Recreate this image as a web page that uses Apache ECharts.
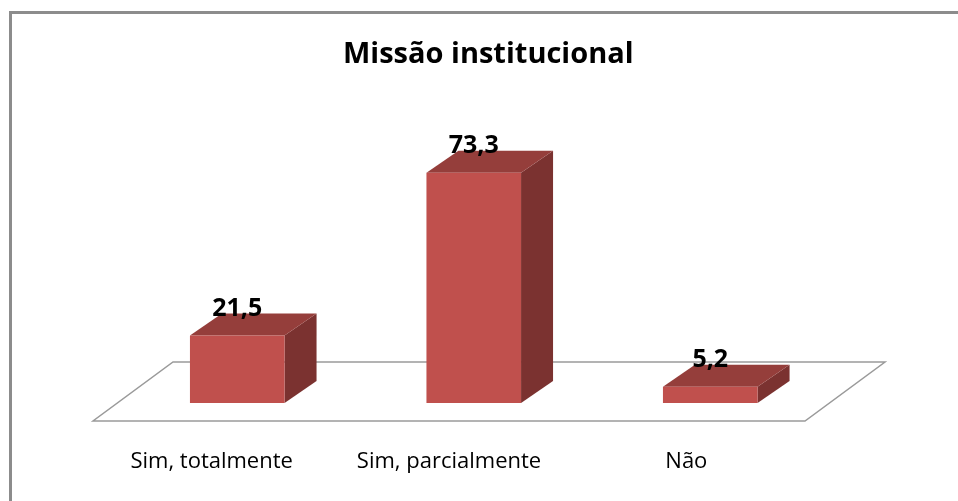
<!DOCTYPE html>
<html>
<head>
<meta charset="utf-8">
<script src="https://cdn.jsdelivr.net/npm/echarts@6/dist/echarts.min.js"></script>
<style>
  html, body { margin: 0; padding: 0; background: #fff; }
  #chart { width: 958px; height: 501px; }
</style>
</head>
<body>
<div id="chart"></div>
<script>
const categories = ['Sim, totalmente', 'Sim, parcialmente', 'Não'];
const values = [21.5, 73.3, 5.2];

// 3d look
const depthX = 32, depthY = -22;
const floorX = 80, floorY = -59;

const chart = echarts.init(document.getElementById('chart'));

function renderBar(params, api) {
  const idx = api.value(0);
  const val = api.value(1);
  const top = api.coord([idx, val]);
  const base = api.coord([idx, 0]);
  const w = api.size([1, 0])[0] * 0.4;
  const x0 = top[0] - w / 2, x1 = top[0] + w / 2;
  const yt = top[1], yb = base[1];
  return {
    type: 'group',
    children: [
      {
        type: 'polygon',
        shape: { points: [[x1, yt], [x1 + depthX, yt + depthY], [x1 + depthX, yb + depthY], [x1, yb]] },
        style: { fill: '#7b3230' }
      },
      {
        type: 'polygon',
        shape: { points: [[x0, yt], [x1, yt], [x1 + depthX, yt + depthY], [x0 + depthX, yt + depthY]] },
        style: { fill: '#953e3b' }
      },
      {
        type: 'rect',
        shape: { x: x0, y: yt, width: w, height: yb - yt },
        style: { fill: '#c0504d' }
      },
      {
        type: 'text',
        style: {
          x: top[0], y: yt + depthY - 5,
          text: String(val).replace('.', ','),
          fill: '#000',
          font: 'bold 25px "Open Sans"',
          align: 'center', verticalAlign: 'middle'
        }
      }
    ]
  };
}

function renderFloor(params, api) {
  const cs = params.coordSys;
  const yb = cs.y + cs.height;
  return {
    type: 'polygon',
    shape: { points: [[cs.x, yb], [cs.x + cs.width, yb], [cs.x + cs.width + floorX, yb + floorY], [cs.x + floorX, yb + floorY]] },
    style: { fill: '#fff', stroke: '#9a9a9a', lineWidth: 1.5 }
  };
}

const option = {
  animation: false,
  title: {
    text: 'Missão institucional',
    left: 338,
    top: 35,
    textStyle: { fontFamily: 'Open Sans', fontWeight: 'bold', fontSize: 29, color: '#000' }
  },
  graphic: [
    {
      type: 'polyline',
      shape: { points: [[10.5, 501], [10.5, 12.5], [958, 12.5]] },
      style: { stroke: '#8c8c8c', lineWidth: 3, fill: null }
    }
  ],
  grid: [
    { left: 119, right: 129.5, top: 89, bottom: 98 },
    { left: 93, right: 153, top: 89, bottom: 80 }
  ],
  xAxis: [
    { type: 'category', gridIndex: 0, data: categories, show: false },
    {
      type: 'category', gridIndex: 1, data: categories,
      axisLine: { show: false }, axisTick: { show: false },
      axisLabel: { interval: 0, hideOverlap: false, margin: 30, fontFamily: 'Open Sans', fontSize: 22, color: '#000' }
    }
  ],
  yAxis: [
    { type: 'value', gridIndex: 0, min: 0, max: 100, show: false },
    { type: 'value', gridIndex: 1, min: 0, max: 100, show: false }
  ],
  series: [
    {
      type: 'custom', xAxisIndex: 1, yAxisIndex: 1, z: 1,
      renderItem: renderFloor,
      data: [[0, 0]]
    },
    {
      type: 'custom', xAxisIndex: 0, yAxisIndex: 0, z: 2,
      renderItem: renderBar,
      encode: { x: 0, y: 1 },
      data: values.map((v, i) => [i, v])
    }
  ]
};

chart.setOption(option);
</script>
</body>
</html>
